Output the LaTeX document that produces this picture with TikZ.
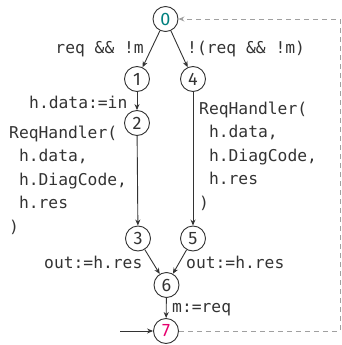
\documentclass[tikz,border=0pt]{standalone}
\usepackage{fontspec}
\setmainfont{Fira Sans}
\setmonofont{DejaVu Sans Mono}
\usetikzlibrary{arrows.meta}
\definecolor{ink}{HTML}{333333}
\definecolor{startc}{HTML}{00807F}
\definecolor{endc}{HTML}{E6006E}
\definecolor{backc}{HTML}{A0A0A0}
\tikzset{
  st/.style={circle,draw=ink,line width=0.9pt,minimum size=25pt,inner sep=0pt,
    font=\fontsize{18}{18}\selectfont,text=ink},
  edge/.style={draw=ink,line width=0.9pt,-{Stealth[length=6pt,width=5pt]}},
  back/.style={draw=backc,line width=0.9pt,dash pattern=on 5pt off 4pt,-{Stealth[length=6pt,width=5pt]}},
  lbl/.style={inner sep=0pt,text=ink,font=\ttfamily\fontsize{16.3}{23.5}\selectfont,anchor=base west}
}
\begin{document}
\begin{tikzpicture}[x=1pt,y=-1pt]
\useasboundingbox (0,0) rectangle (342,345);
\node[st,text=startc] (s0) at (165.5,19) {0};
\node[st] (s1) at (137,79) {1};
\node[st] (s4) at (193,79) {4};
\node[st] (s2) at (137,123) {2};
\node[st] (s3) at (138,238.5) {3};
\node[st] (s5) at (193,238.5) {5};
\node[st] (s6) at (166.5,285) {6};
\node[st,text=endc] (s7) at (166,331) {7};
\coordinate (init) at (120,331);
\coordinate (c1) at (340,331);
\draw[edge] (s0) -- (s1);
\draw[edge] (s0) -- (s4);
\draw[edge] (s1) -- (s2);
\draw[edge] (s2) -- (s3);
\draw[edge] (s4) -- (s5);
\draw[edge] (s3) -- (s6);
\draw[edge] (s5) -- (s6);
\draw[edge] (s6) -- (s7);
\draw[edge] (init) -- (s7);
\draw[back] (s7) -- (c1) |- (s0);
\node[lbl,anchor=base east] (l01) at (144,54) {req \&\& !m};
\node[lbl] (l04) at (187,54) {!(req \&\& !m)};
\node[lbl] (l12) at (29,108) {h.data:=in};
\node[lbl] (a1) at (9,138) {ReqHandler(};
\node[lbl] (a2) at (9,161.5) {\hphantom{x}h.data,};
\node[lbl] (a3) at (9,185) {\hphantom{x}h.DiagCode,};
\node[lbl] (a4) at (9,208.5) {\hphantom{x}h.res};
\node[lbl] (a5) at (9,232) {)};
\node[lbl] (b1) at (199,114) {ReqHandler(};
\node[lbl] (b2) at (199,137.5) {\hphantom{x}h.data,};
\node[lbl] (b3) at (199,161) {\hphantom{x}h.DiagCode,};
\node[lbl] (b4) at (199,184.5) {\hphantom{x}h.res};
\node[lbl] (b5) at (199,208) {)};
\node[lbl] (l36) at (44,268) {out:=h.res};
\node[lbl] (l56) at (186,268) {out:=h.res};
\node[lbl] (l67) at (172,312) {m:=req};
\end{tikzpicture}
\end{document}
